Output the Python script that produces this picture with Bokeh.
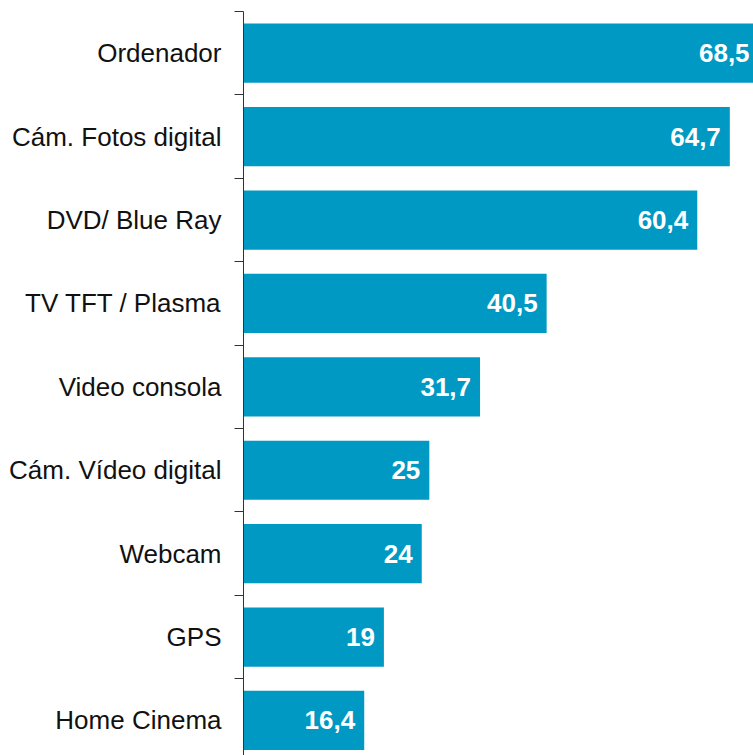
from bokeh.plotting import figure
from bokeh.models import ColumnDataSource, Range1d, FixedTicker, LinearAxis
from bokeh.core.properties import value
from bokeh.embed import file_html
from bokeh.resources import INLINE

categories = ["Ordenador", "Cám. Fotos digital", "DVD/ Blue Ray", "TV TFT / Plasma",
              "Video consola", "Cám. Vídeo digital", "Webcam", "GPS", "Home Cinema"]
values = [68.5, 64.7, 60.4, 40.5, 31.7, 25, 24, 19, 16.4]
value_labels = ["68,5", "64,7", "60,4", "40,5", "31,7", "25", "24", "19", "16,4"]

centers = [i + 0.5 for i in range(len(categories))]
boundaries = [float(i) for i in range(len(categories) + 1)]

src = ColumnDataSource(dict(y=centers, v=values, lab=value_labels))

p = figure(width=753, height=755, output_backend="svg", toolbar_location=None,
           x_range=Range1d(0.45, 67.83), y_range=Range1d(8.92, 0),
           x_axis_location=None, y_axis_location=None,
           min_border_left=243, min_border_right=0, min_border_top=11, min_border_bottom=0)
p.outline_line_color = None
p.xgrid.visible = False
p.ygrid.visible = False

p.hbar(y="y", left=0, right="v", height=0.71, source=src,
       fill_color="#0099C4", line_color=None)

p.text(x="v", y="y", text="lab", source=src, x_offset=-9,
       text_align="right", text_baseline="middle",
       text_font=value("Liberation Sans"), text_font_style="bold",
       text_font_size="26px", text_color="white")

ax = LinearAxis(ticker=FixedTicker(ticks=centers, minor_ticks=boundaries))
ax.major_label_overrides = {c: lab for c, lab in zip(centers, categories)}
ax.major_tick_out = 0
ax.major_tick_in = 0
ax.minor_tick_out = 9
ax.minor_tick_in = 0
ax.minor_tick_line_color = "#333333"
ax.axis_line_color = "#333333"
ax.major_label_standoff = 13
ax.major_label_text_font = "Liberation Sans"
ax.major_label_text_font_size = "26px"
ax.major_label_text_color = "#111111"
p.add_layout(ax, "left")

open("out.html", "w").write(file_html(p, INLINE))
